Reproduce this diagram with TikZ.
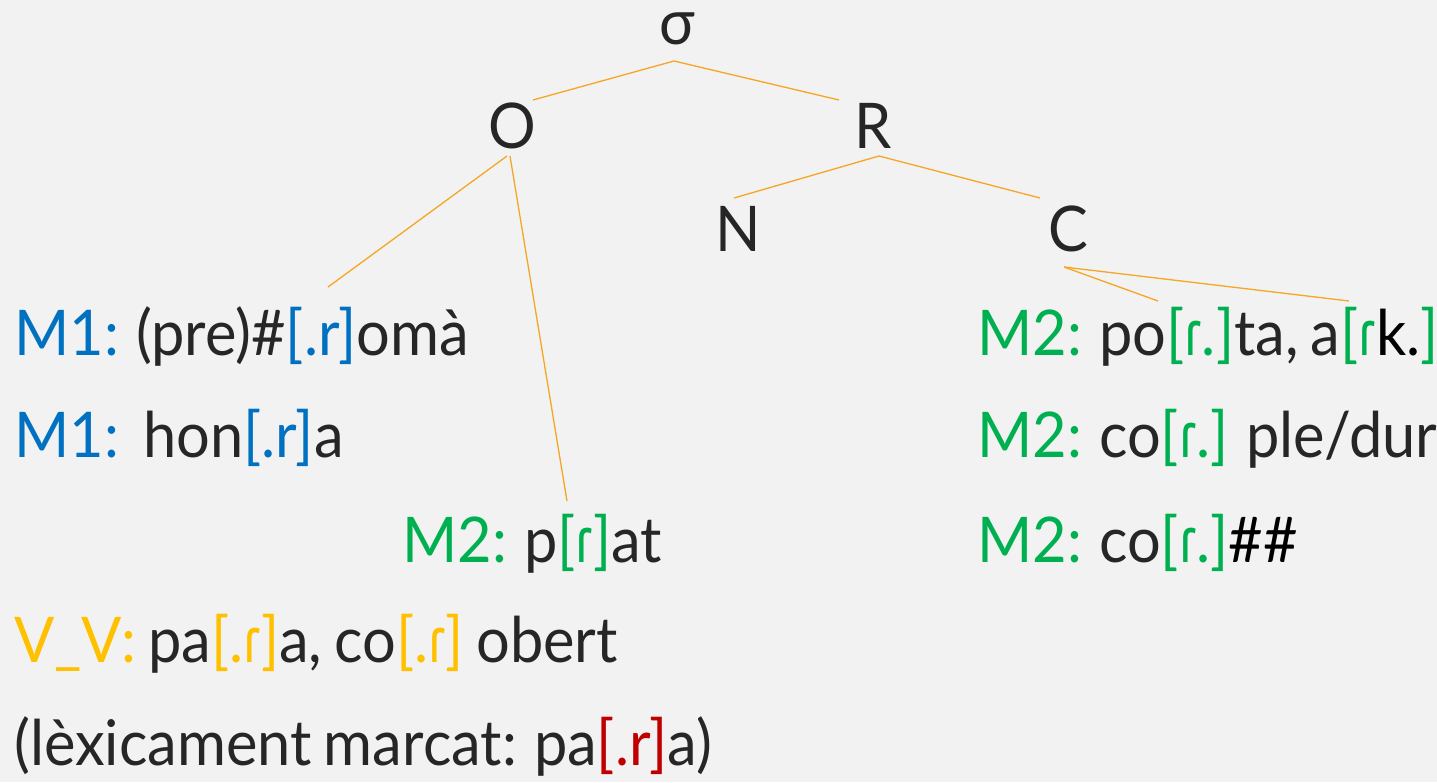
\documentclass[tikz,border=0pt]{standalone}
\usepackage{fontspec}
\setmainfont{Lato}[FakeStretch=0.945, WordSpace=0.8]
\newfontfamily\ipafont{Noto Sans}[FakeStretch=0.8]
\definecolor{bg}{HTML}{F2F2F2}
\definecolor{txt}{HTML}{262626}
\definecolor{mblue}{HTML}{0070C0}
\definecolor{mgreen}{HTML}{00B050}
\definecolor{myellow}{HTML}{FFC000}
\definecolor{mred}{HTML}{C00000}
\definecolor{branch}{HTML}{F5A623}
\newcommand{\tapr}{{\ipafont ɾ}}
\begin{document}
\begin{tikzpicture}[x=1pt,y=-1pt,
  every node/.style={inner sep=0pt, font=\fontsize{63}{63}\selectfont, text=txt},
  lbl/.style={anchor=base west},
  tree/.style={anchor=base},
  branchline/.style={draw=branch, line width=1.3pt}]
\fill[bg] (0,0) rectangle (1437,782);
\useasboundingbox (0,0) rectangle (1437,782);
% tree labels
\node[tree] (sigma) at (677,44) {σ};
\node[tree] (O) at (512,148) {O};
\node[tree] (R) at (873,148) {R};
\node[tree] (N) at (738,251) {N};
\node[tree] (C) at (1068,251) {C};
% text rows
\node[lbl] (m1a) at (14,355) {\textcolor{mblue}{M1:} (pre)\#\textcolor{mblue}{[.r]}omà};
\node[lbl] (m1b) at (14,457) {\textcolor{mblue}{M1:}~~hon\textcolor{mblue}{[.r]}a};
\node[lbl] (m2p) at (402,562) {\textcolor{mgreen}{M2:} p\textcolor{mgreen}{[\tapr]}at};
\node[lbl] (vv) at (14,662) {\textcolor{myellow}{V\_V:} pa\textcolor{myellow}{[.\tapr]}a, co\textcolor{myellow}{[.\tapr]}~obert};
\node[lbl] (lex) at (14,765) {(lèxicament marcat: pa\textcolor{mred}{[.r]}a)};
\node[lbl] (m2a) at (977,355) {\textcolor{mgreen}{M2:} po\textcolor{mgreen}{[\tapr.]}ta, a\textcolor{mgreen}{[\tapr}\textcolor{black}{k.}\textcolor{mgreen}{]}};
\node[lbl] (m2b) at (977,457) {\textcolor{mgreen}{M2:} co\textcolor{mgreen}{[\tapr.]} ple/dur};
\node[lbl] (m2c) at (977,562) {\textcolor{mgreen}{M2:} co\textcolor{mgreen}{[\tapr.]}\textcolor{black}{\#\#}};
% branch end points
\coordinate (sigmaB) at (674,61);
\coordinate (Otop) at (533,100);
\coordinate (Rtop) at (839,100);
\coordinate (OB1) at (507,156);
\coordinate (OB2) at (510,156);
\coordinate (m1aT) at (328,287);
\coordinate (m2pT) at (567,501);
\coordinate (RB) at (879,156);
\coordinate (Ntop) at (734,198);
\coordinate (Ctop) at (1040,198);
\coordinate (CB) at (1064,267);
\coordinate (m2aT1) at (1158,301);
\coordinate (m2aT2) at (1349,301);
% branches
\draw[branchline] (sigmaB) -- (Otop);
\draw[branchline] (sigmaB) -- (Rtop);
\draw[branchline] (OB1) -- (m1aT);
\draw[branchline] (OB2) -- (m2pT);
\draw[branchline] (RB) -- (Ntop);
\draw[branchline] (RB) -- (Ctop);
\draw[branchline] (CB) -- (m2aT1);
\draw[branchline] (CB) -- (m2aT2);
\end{tikzpicture}
\end{document}
